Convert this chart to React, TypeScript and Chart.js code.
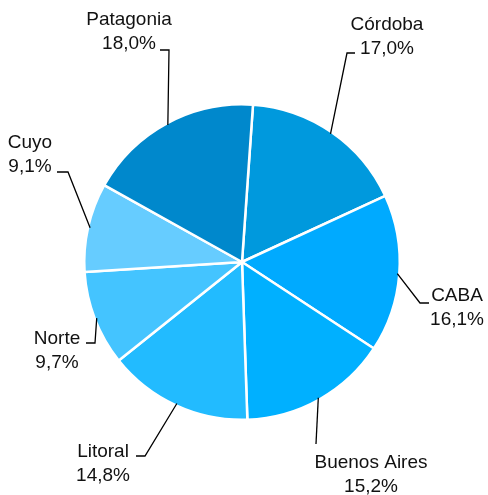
import React, { useEffect, useRef } from "react";
import { Chart, registerables } from "chart.js";

Chart.register(...registerables);

const categories = ["Córdoba", "CABA", "Buenos Aires", "Litoral", "Norte", "Cuyo", "Patagonia"];
const values = [17.0, 16.1, 15.2, 14.8, 9.7, 9.1, 18.0];
const valueLabels = ["17,0%", "16,1%", "15,2%", "14,8%", "9,7%", "9,1%", "18,0%"];
const colors = ["#0099DD", "#00AAFF", "#00B0FF", "#22BBFF", "#44C4FF", "#66CCFF", "#0088CC"];

// leader elbow / end points and label text anchors (layout only)
const labelLayout = [
  { elbow: [347, 53], end: [355, 53], tx: 387, ty: 25 },
  { elbow: [420, 303], end: [429, 303], tx: 457, ty: 296 },
  { elbow: [316, 444], end: [316, 444], tx: 371, ty: 463 },
  { elbow: [145, 456], end: [136, 456], tx: 103, ty: 452 },
  { elbow: [95, 343], end: [86, 343], tx: 57, ty: 339 },
  { elbow: [68, 172], end: [57, 172], tx: 30, ty: 143 },
  { elbow: [169, 50], end: [160, 50], tx: 129, ty: 20 },
];

const outsideLabels = {
  id: "outsideLabels",
  afterDatasetsDraw(chart: any) {
    const ctx = chart.ctx;
    const meta = chart.getDatasetMeta(0);
    ctx.save();
    meta.data.forEach((arc: any, i: number) => {
      const p = arc.getProps(["x", "y", "startAngle", "endAngle", "outerRadius"], true);
      const mid = (p.startAngle + p.endAngle) / 2;
      const r = p.outerRadius - 2;
      const ax = p.x + Math.cos(mid) * r;
      const ay = p.y + Math.sin(mid) * r;
      const L = labelLayout[i];
      ctx.strokeStyle = "#000000";
      ctx.lineWidth = 1.3;
      ctx.beginPath();
      ctx.moveTo(ax, ay);
      ctx.lineTo(L.elbow[0], L.elbow[1]);
      ctx.lineTo(L.end[0], L.end[1]);
      ctx.stroke();
      ctx.fillStyle = "#111111";
      ctx.font = "19px 'Liberation Sans', Arial, sans-serif";
      ctx.textAlign = "center";
      ctx.textBaseline = "middle";
      ctx.fillText(categories[i], L.tx, L.ty);
      ctx.fillText(valueLabels[i], L.tx, L.ty + 24);
    });
    ctx.restore();
  },
};

export default function App() {
  const ref = useRef<HTMLCanvasElement>(null);
  useEffect(() => {
    if (!ref.current) return;
    const chart = new Chart(ref.current, {
      type: "pie",
      data: {
        labels: categories,
        datasets: [
          {
            data: values,
            backgroundColor: colors,
            borderColor: "#ffffff",
            borderWidth: 2.5,
          },
        ],
      },
      options: {
        responsive: false,
        animation: false,
        rotation: 4,
        layout: { padding: { left: 83, right: 87, top: 103, bottom: 74 } },
        plugins: {
          legend: { display: false },
          tooltip: { enabled: false },
        },
      },
      plugins: [outsideLabels],
    });
    return () => chart.destroy();
  }, []);
  return (
    <div style={{ position: "absolute", left: 0, top: 0, width: 488, height: 495, background: "#fff" }}>
      <canvas ref={ref} width={488} height={495} style={{ width: 488, height: 495 }} />
    </div>
  );
}
